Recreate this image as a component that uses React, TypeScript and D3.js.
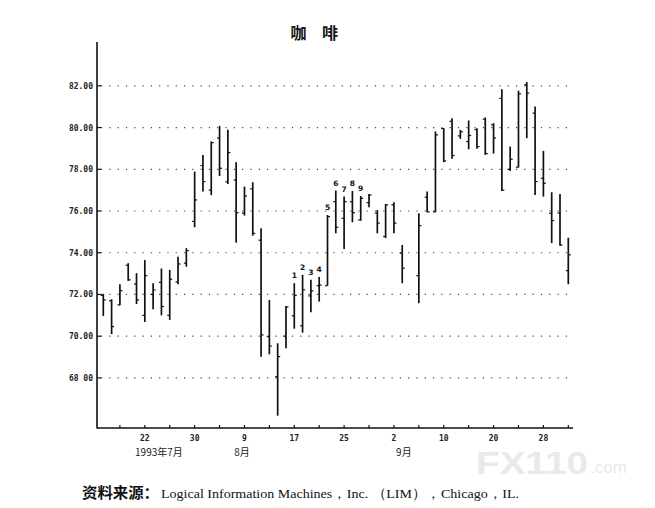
import React from 'react';
import * as d3 from 'd3';

// daily coffee futures, Jul 15 - Oct 1 1993 (weekday slots, Sep 6 holiday = null)
const highs: (number | null)[] = [
  72.03, 71.77, 72.49, 73.5, 73.02, 73.65, 72.54, 73.24, 73.18, 73.81,
  74.22, 77.89, 78.69, 79.33, 80.08, 79.89, 78.34, 77.17, 77.38, 75.17,
  71.74, 69.66, 71.45, 72.54, 72.94, 72.7, 72.84, 75.81, 76.98, 76.69,
  76.96, 76.72, 76.82, 76.05, 76.34, 76.42, 74.37, null, 75.89, 76.93,
  79.81, 79.97, 80.45, 79.89, 80.34, 79.97, 80.48, 80.21, 81.84, 79.09,
  81.77, 82.18, 81.01, 78.88, 76.9, 76.82, 74.72,
];
const lows: (number | null)[] = [
  70.97, 70.1, 71.48, 72.65, 71.54, 70.68, 71.29, 71.0, 70.78, 72.49,
  73.33, 75.22, 76.93, 76.76, 77.68, 77.29, 74.48, 75.78, 74.82, 69.02,
  69.13, 66.19, 69.42, 70.36, 70.17, 71.15, 71.66, 72.42, 74.93, 74.18,
  75.46, 75.54, 76.18, 74.93, 74.7, 74.93, 72.54, null, 71.58, 75.94,
  75.94, 78.34, 78.5, 79.46, 78.96, 78.98, 78.69, 78.75, 76.96, 77.92,
  78.09, 79.49, 76.77, 76.69, 74.46, 74.34, 72.49,
];
const opens: (number | null)[] = [
  71.95, 71.7, 71.5, 73.4, 72.5, 71.0, 72.0, 72.58, 71.0, 72.6,
  73.5, 75.5, 78.18, 77.0, 79.5, 77.4, 77.49, 75.9, 77.06, 74.6,
  69.98, 68.06, 70.0, 70.98, 70.5, 71.93, 72.42, 72.42, 76.45, 75.65,
  76.44, 75.57, 76.4, 75.9, 74.78, 76.3, 73.98, null, 72.9, 76.66,
  75.96, 79.95, 80.3, 79.6, 79.33, 79.9, 80.4, 80.13, 81.4, 78.0,
  78.1, 82.05, 80.69, 77.57, 75.89, 75.9, 73.14,
];
const closes: (number | null)[] = [
  71.74, 70.46, 72.18, 72.7, 71.74, 72.9, 72.22, 71.42, 72.73, 73.46,
  74.1, 76.53, 77.41, 79.28, 78.05, 78.8, 75.92, 76.72, 74.93, 70.06,
  69.53, 69.02, 71.4, 71.96, 72.22, 72.17, 72.45, 75.73, 75.22, 76.45,
  75.92, 76.61, 76.77, 75.42, 76.29, 75.42, 73.26, null, 75.3, 75.96,
  79.65, 78.4, 78.66, 79.8, 79.62, 79.09, 78.75, 79.5, 77.0, 78.48,
  81.62, 81.65, 77.41, 77.33, 75.54, 74.37, 73.9,
];

// numbered days (Aug 17 - Aug 27)
const markedDays = [23, 24, 25, 26, 27, 28, 29, 30, 31];
const markLabels = ['1', '2', '3', '4', '5', '6', '7', '8', '9'];

const yTicks = [68, 70, 72, 74, 76, 78, 80, 82];
const yTickLabels = ['68 00', '70.00', '72.00', '74.00', '76.00', '78.00', '80.00', '82.00'];

const xTickSlots = d3.range(2, 57, 3);
const xLabelSlots = [5, 11, 17, 23, 29, 35, 41, 47, 53];
const xLabels = ['22', '30', '9', '17', '25', '2', '10', '20', '28'];
const monthLabels = [
  { slot: 6.7, text: '1993年7月' },
  { slot: 16.7, text: '8月' },
  { slot: 36.2, text: '9月' },
];

const W = 655;
const H = 508;

export default function App() {
  const x = d3.scaleLinear().domain([0, 56]).range([103.3, 568.3]);
  const y = d3.scaleLinear().domain([65.6, 84.1]).range([428, 42]);

  const axisLeft = 97;
  const axisRight = 573;
  const axisBottom = 428;
  const mono = '"DejaVu Sans Mono", "Liberation Mono", monospace';
  const cjk = '"Noto Sans CJK SC", sans-serif';
  const serif = '"Liberation Serif", "DejaVu Serif", serif';

  return (
    <svg width={W} height={H} style={{ display: 'block', position: 'absolute', left: 0, top: 0, background: '#fff' }}>
      {/* watermark */}
      <g fill="#e9e9e9" fontFamily='"Liberation Sans", Arial, sans-serif' fontWeight="bold">
        <text x={476} y={474} fontSize={32} textLength={112} lengthAdjust="spacingAndGlyphs">FX110</text>
        <text x={590} y={473} fontSize={17} fontWeight="normal">.com</text>
      </g>

      {/* title */}
      <g fontFamily={cjk} fontWeight="bold" fontSize={16} fill="#111" textAnchor="middle">
        <text x={298.5} y={39}>咖</text>
        <text x={330} y={39}>啡</text>
      </g>

      {/* dotted grid */}
      {yTicks.map((t) => (
        <line
          key={'g' + t}
          x1={axisLeft + 4}
          x2={axisRight - 2}
          y1={y(t)}
          y2={y(t)}
          stroke="#444"
          strokeWidth={1.2}
          strokeDasharray="1.2 7.1"
        />
      ))}

      {/* axes */}
      <line x1={axisLeft} x2={axisLeft} y1={42} y2={axisBottom + 0.5} stroke="#111" strokeWidth={1.6} />
      <line x1={axisLeft} x2={axisRight} y1={axisBottom} y2={axisBottom} stroke="#111" strokeWidth={1.6} />

      {yTicks.map((t, i) => (
        <g key={'yt' + t}>
          <line x1={axisLeft} x2={axisLeft + 4} y1={y(t)} y2={y(t)} stroke="#111" strokeWidth={1.2} />
          <text
            x={93}
            y={y(t) + 3}
            textAnchor="end"
            fontFamily={mono}
            fontWeight="bold"
            fontSize={8}
            fill="#222"
          >
            {yTickLabels[i]}
          </text>
        </g>
      ))}

      {xTickSlots.map((s) => (
        <line key={'xt' + s} x1={x(s)} x2={x(s)} y1={axisBottom} y2={axisBottom - 3} stroke="#111" strokeWidth={1.2} />
      ))}
      {xLabelSlots.map((s, i) => (
        <text
          key={'xl' + s}
          x={x(s)}
          y={441}
          textAnchor="middle"
          fontFamily={mono}
          fontWeight="bold"
          fontSize={8}
          fill="#222"
        >
          {xLabels[i]}
        </text>
      ))}
      {monthLabels.map((m) => (
        <text key={m.text} x={x(m.slot)} y={456} textAnchor="middle" fontFamily={cjk} fontSize={10} fill="#222">
          {m.text}
        </text>
      ))}

      {/* price bars */}
      {highs.map((h, i) => {
        const l = lows[i];
        if (h == null || l == null) return null;
        const o = opens[i] as number;
        const c = closes[i] as number;
        const cx = x(i);
        return (
          <g key={'b' + i} stroke="#111">
            <line x1={cx} x2={cx} y1={y(h)} y2={y(l)} strokeWidth={1.7} />
            <line x1={cx - 2.5} x2={cx} y1={y(o)} y2={y(o)} strokeWidth={1.2} />
            <line x1={cx} x2={cx + 2.5} y1={y(c)} y2={y(c)} strokeWidth={1.2} />
          </g>
        );
      })}

      {markedDays.map((s, i) => (
        <text
          key={'m' + s}
          x={x(s)}
          y={y(highs[s] as number) - 5}
          textAnchor="middle"
          fontFamily='"DejaVu Sans", sans-serif'
          fontWeight="bold"
          fontSize={7.5}
          fill="#111"
        >
          {markLabels[i]}
        </text>
      ))}

      {/* source */}
      <text x={82} y={498} fontFamily={cjk} fontWeight="bold" fontSize={15} fill="#111" textLength={77} lengthAdjust="spacingAndGlyphs">
        资料来源：
      </text>
      <text x={161} y={498} fontFamily={serif} fontSize={13.5} fill="#111" textLength={358} lengthAdjust="spacingAndGlyphs">
        Logical Information Machines，Inc. （LIM），Chicago，IL.
      </text>
    </svg>
  );
}
